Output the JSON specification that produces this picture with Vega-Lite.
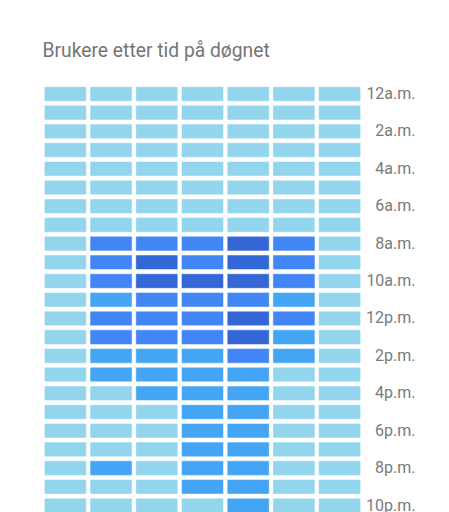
{
  "$schema": "https://vega.github.io/schema/vega-lite/v6.json",
  "autosize": "none",
  "width": 320,
  "height": 449,
  "padding": {"left": 42.5, "top": 84.6, "right": 86.5, "bottom": 0},
  "background": "#ffffff",
  "title": {"text": "Brukere etter tid på døgnet", "anchor": "start", "fontSize": 19.3, "fontWeight": "normal", "color": "#757575", "font": "Roboto", "baseline": "alphabetic", "offset": 8.5},
  "config": {"view": {"stroke": null}},
  "data": {"values": [
    {"d":"søn","t":"12a.m.","u":4},{"d":"man","t":"12a.m.","u":4},{"d":"tir","t":"12a.m.","u":4},{"d":"ons","t":"12a.m.","u":4},{"d":"tor","t":"12a.m.","u":4},{"d":"fre","t":"12a.m.","u":4},{"d":"lør","t":"12a.m.","u":4},
    {"d":"søn","t":"1a.m.","u":3},{"d":"man","t":"1a.m.","u":3},{"d":"tir","t":"1a.m.","u":3},{"d":"ons","t":"1a.m.","u":3},{"d":"tor","t":"1a.m.","u":3},{"d":"fre","t":"1a.m.","u":3},{"d":"lør","t":"1a.m.","u":3},
    {"d":"søn","t":"2a.m.","u":2},{"d":"man","t":"2a.m.","u":2},{"d":"tir","t":"2a.m.","u":2},{"d":"ons","t":"2a.m.","u":2},{"d":"tor","t":"2a.m.","u":2},{"d":"fre","t":"2a.m.","u":2},{"d":"lør","t":"2a.m.","u":2},
    {"d":"søn","t":"3a.m.","u":2},{"d":"man","t":"3a.m.","u":2},{"d":"tir","t":"3a.m.","u":2},{"d":"ons","t":"3a.m.","u":2},{"d":"tor","t":"3a.m.","u":2},{"d":"fre","t":"3a.m.","u":2},{"d":"lør","t":"3a.m.","u":2},
    {"d":"søn","t":"4a.m.","u":1},{"d":"man","t":"4a.m.","u":1},{"d":"tir","t":"4a.m.","u":1},{"d":"ons","t":"4a.m.","u":1},{"d":"tor","t":"4a.m.","u":1},{"d":"fre","t":"4a.m.","u":1},{"d":"lør","t":"4a.m.","u":1},
    {"d":"søn","t":"5a.m.","u":2},{"d":"man","t":"5a.m.","u":2},{"d":"tir","t":"5a.m.","u":2},{"d":"ons","t":"5a.m.","u":2},{"d":"tor","t":"5a.m.","u":2},{"d":"fre","t":"5a.m.","u":2},{"d":"lør","t":"5a.m.","u":2},
    {"d":"søn","t":"6a.m.","u":4},{"d":"man","t":"6a.m.","u":4},{"d":"tir","t":"6a.m.","u":4},{"d":"ons","t":"6a.m.","u":4},{"d":"tor","t":"6a.m.","u":4},{"d":"fre","t":"6a.m.","u":4},{"d":"lør","t":"6a.m.","u":4},
    {"d":"søn","t":"7a.m.","u":8},{"d":"man","t":"7a.m.","u":8},{"d":"tir","t":"7a.m.","u":8},{"d":"ons","t":"7a.m.","u":8},{"d":"tor","t":"7a.m.","u":8},{"d":"fre","t":"7a.m.","u":8},{"d":"lør","t":"7a.m.","u":8},
    {"d":"søn","t":"8a.m.","u":8},{"d":"man","t":"8a.m.","u":26},{"d":"tir","t":"8a.m.","u":26},{"d":"ons","t":"8a.m.","u":26},{"d":"tor","t":"8a.m.","u":36},{"d":"fre","t":"8a.m.","u":26},{"d":"lør","t":"8a.m.","u":8},
    {"d":"søn","t":"9a.m.","u":8},{"d":"man","t":"9a.m.","u":26},{"d":"tir","t":"9a.m.","u":36},{"d":"ons","t":"9a.m.","u":26},{"d":"tor","t":"9a.m.","u":36},{"d":"fre","t":"9a.m.","u":26},{"d":"lør","t":"9a.m.","u":8},
    {"d":"søn","t":"10a.m.","u":8},{"d":"man","t":"10a.m.","u":26},{"d":"tir","t":"10a.m.","u":36},{"d":"ons","t":"10a.m.","u":36},{"d":"tor","t":"10a.m.","u":36},{"d":"fre","t":"10a.m.","u":26},{"d":"lør","t":"10a.m.","u":8},
    {"d":"søn","t":"11a.m.","u":8},{"d":"man","t":"11a.m.","u":16},{"d":"tir","t":"11a.m.","u":26},{"d":"ons","t":"11a.m.","u":26},{"d":"tor","t":"11a.m.","u":26},{"d":"fre","t":"11a.m.","u":16},{"d":"lør","t":"11a.m.","u":8},
    {"d":"søn","t":"12p.m.","u":8},{"d":"man","t":"12p.m.","u":26},{"d":"tir","t":"12p.m.","u":26},{"d":"ons","t":"12p.m.","u":26},{"d":"tor","t":"12p.m.","u":36},{"d":"fre","t":"12p.m.","u":26},{"d":"lør","t":"12p.m.","u":8},
    {"d":"søn","t":"1p.m.","u":8},{"d":"man","t":"1p.m.","u":26},{"d":"tir","t":"1p.m.","u":26},{"d":"ons","t":"1p.m.","u":26},{"d":"tor","t":"1p.m.","u":36},{"d":"fre","t":"1p.m.","u":16},{"d":"lør","t":"1p.m.","u":8},
    {"d":"søn","t":"2p.m.","u":8},{"d":"man","t":"2p.m.","u":16},{"d":"tir","t":"2p.m.","u":16},{"d":"ons","t":"2p.m.","u":16},{"d":"tor","t":"2p.m.","u":26},{"d":"fre","t":"2p.m.","u":16},{"d":"lør","t":"2p.m.","u":8},
    {"d":"søn","t":"3p.m.","u":8},{"d":"man","t":"3p.m.","u":16},{"d":"tir","t":"3p.m.","u":16},{"d":"ons","t":"3p.m.","u":16},{"d":"tor","t":"3p.m.","u":16},{"d":"fre","t":"3p.m.","u":8},{"d":"lør","t":"3p.m.","u":8},
    {"d":"søn","t":"4p.m.","u":8},{"d":"man","t":"4p.m.","u":8},{"d":"tir","t":"4p.m.","u":16},{"d":"ons","t":"4p.m.","u":16},{"d":"tor","t":"4p.m.","u":16},{"d":"fre","t":"4p.m.","u":8},{"d":"lør","t":"4p.m.","u":8},
    {"d":"søn","t":"5p.m.","u":8},{"d":"man","t":"5p.m.","u":8},{"d":"tir","t":"5p.m.","u":8},{"d":"ons","t":"5p.m.","u":16},{"d":"tor","t":"5p.m.","u":16},{"d":"fre","t":"5p.m.","u":8},{"d":"lør","t":"5p.m.","u":8},
    {"d":"søn","t":"6p.m.","u":8},{"d":"man","t":"6p.m.","u":8},{"d":"tir","t":"6p.m.","u":8},{"d":"ons","t":"6p.m.","u":16},{"d":"tor","t":"6p.m.","u":16},{"d":"fre","t":"6p.m.","u":8},{"d":"lør","t":"6p.m.","u":8},
    {"d":"søn","t":"7p.m.","u":8},{"d":"man","t":"7p.m.","u":8},{"d":"tir","t":"7p.m.","u":8},{"d":"ons","t":"7p.m.","u":16},{"d":"tor","t":"7p.m.","u":16},{"d":"fre","t":"7p.m.","u":8},{"d":"lør","t":"7p.m.","u":8},
    {"d":"søn","t":"8p.m.","u":8},{"d":"man","t":"8p.m.","u":16},{"d":"tir","t":"8p.m.","u":8},{"d":"ons","t":"8p.m.","u":16},{"d":"tor","t":"8p.m.","u":16},{"d":"fre","t":"8p.m.","u":8},{"d":"lør","t":"8p.m.","u":8},
    {"d":"søn","t":"9p.m.","u":8},{"d":"man","t":"9p.m.","u":8},{"d":"tir","t":"9p.m.","u":8},{"d":"ons","t":"9p.m.","u":16},{"d":"tor","t":"9p.m.","u":16},{"d":"fre","t":"9p.m.","u":8},{"d":"lør","t":"9p.m.","u":8},
    {"d":"søn","t":"10p.m.","u":8},{"d":"man","t":"10p.m.","u":8},{"d":"tir","t":"10p.m.","u":8},{"d":"ons","t":"10p.m.","u":8},{"d":"tor","t":"10p.m.","u":16},{"d":"fre","t":"10p.m.","u":8},{"d":"lør","t":"10p.m.","u":8},
    {"d":"søn","t":"11p.m.","u":5},{"d":"man","t":"11p.m.","u":5},{"d":"tir","t":"11p.m.","u":5},{"d":"ons","t":"11p.m.","u":5},{"d":"tor","t":"11p.m.","u":5},{"d":"fre","t":"11p.m.","u":5},{"d":"lør","t":"11p.m.","u":5}
  ]},
  "mark": {"type": "rect", "stroke": "#ffffff", "strokeWidth": 1, "strokeOpacity": 0.5},
  "encoding": {
    "x": {"field": "d", "type": "nominal", "sort": null, "scale": {"paddingInner": 0.08, "paddingOuter": 0.04}, "axis": null},
    "y": {"field": "t", "type": "nominal", "sort": null, "scale": {"paddingInner": 0.22, "paddingOuter": 0.11},
      "axis": {"orient": "right", "title": null, "domain": false, "ticks": false, "tickSize": 0, "grid": false, "labelPadding": 52.5, "labelAlign": "right", "labelFontSize": 16, "labelFont": "Roboto", "labelColor": "#7a7a7a",
        "values": ["12a.m.","2a.m.","4a.m.","6a.m.","8a.m.","10a.m.","12p.m.","2p.m.","4p.m.","6p.m.","8p.m.","10p.m."]}},
    "color": {"field": "u", "type": "quantitative", "scale": {"type": "quantize", "domain": [0, 40], "range": ["#93d5ed", "#45a5f5", "#4285f4", "#3367d6"]}, "legend": null}
  }
}
